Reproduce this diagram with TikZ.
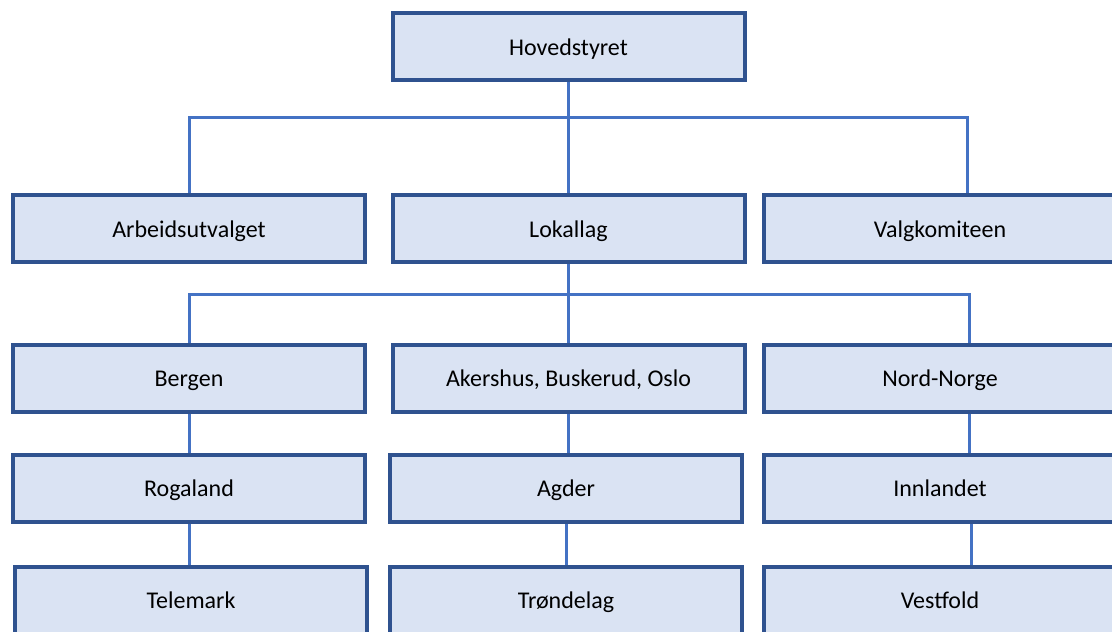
\documentclass[tikz,border=0pt]{standalone}
\usepackage{fontspec}
\setmainfont{Carlito}
\definecolor{boksfyll}{HTML}{DAE3F3}
\definecolor{boksramme}{HTML}{2F528F}
\definecolor{linjeblaa}{HTML}{4472C4}

\begin{document}
\begin{tikzpicture}[x=1pt,y=-1pt,
  boks/.style={draw=boksramme,fill=boksfyll,line width=4pt,minimum width=352pt,minimum height=67pt,inner sep=0pt,text height=17pt,text depth=0pt,font=\fontsize{24}{28}\selectfont},
  linje/.style={draw=linjeblaa,line width=3pt}]
\useasboundingbox (0,0) rectangle (1112,632);
\clip (0,0) rectangle (1112,632);

\node[boks] (hoved) at (568.5,46.5) {Hovedstyret};

\node[boks] (arbeid) at (189,228.5) {Arbeidsutvalget};
\node[boks] (lokal) at (568.5,228.5) {Lokallag};
\node[boks] (valg) at (940,228.5) {Valgkomiteen};

\node[boks] (bergen) at (189,378) {Bergen};
\node[boks] (akershus) at (568.5,378) {Akershus, Buskerud, Oslo};
\node[boks] (nord) at (940,378) {Nord-Norge};

\node[boks] (rogaland) at (189,488) {Rogaland};
\node[boks] (agder) at (566,488) {Agder};
\node[boks] (innland) at (940,488) {Innlandet};

\node[boks] (telemark) at (191,600) {Telemark};
\node[boks] (trond) at (566,600) {Trøndelag};
\node[boks] (vestfold) at (940,600) {Vestfold};

\coordinate (buss1) at (569,117);
\coordinate (buss2) at (569,294);

\draw[linje] (hoved.south) -- (lokal.north);
\draw[linje] (arbeid.north) |- (buss1) -| ([xshift=27pt]valg.north);
\draw[linje] (lokal.south) -- (akershus.north);
\draw[linje] (bergen.north) |- (buss2) -| ([xshift=29pt]nord.north);

\draw[linje] (bergen.south) -- (rogaland.north);
\draw[linje] (rogaland.south) -- (rogaland.south |- telemark.north);
\draw[linje] (akershus.south) -- (akershus.south |- agder.north);
\draw[linje] (agder.south) -- (trond.north);
\draw[linje] ([xshift=29pt]nord.south) -- ([xshift=29pt]innland.north);
\draw[linje] ([xshift=31pt]innland.south) -- ([xshift=31pt]vestfold.north);
\end{tikzpicture}
\end{document}
